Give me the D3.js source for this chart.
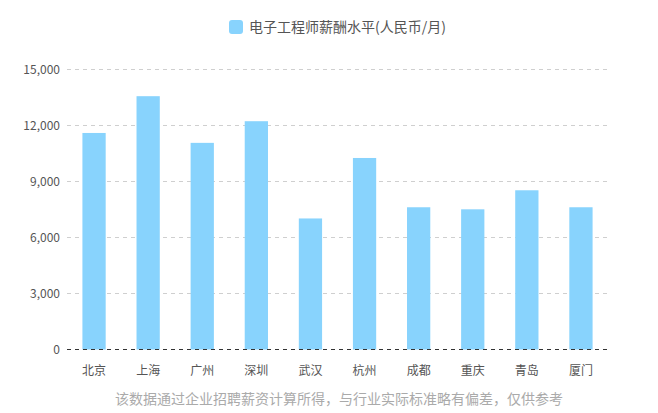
<!DOCTYPE html>
<html>
<head>
<meta charset="utf-8">
<script src="https://cdn.jsdelivr.net/npm/d3@7"></script>
<style>
  html, body { margin: 0; padding: 0; background: #fff; }
  svg { display: block; font-family: "Noto Sans CJK SC", "Noto Sans", sans-serif; }
</style>
</head>
<body>
<svg id="chart" width="658" height="413"></svg>
<script>
const cities = ["北京", "上海", "广州", "深圳", "武汉", "杭州", "成都", "重庆", "青岛", "厦门"];
const salaries = [11600, 13570, 11070, 12230, 7020, 10260, 7620, 7510, 8530, 7620];
const yTicks = [0, 3000, 6000, 9000, 12000, 15000];
const seriesName = "电子工程师薪酬水平(人民币/月)";
const footNote = "该数据通过企业招聘薪资计算所得，与行业实际标准略有偏差，仅供参考";

const width = 658,
  height = 413,
  margin = { top: 69.5, right: 50, bottom: 63.5, left: 67 },
  barColor = "#88d3fd";

const svg = d3.select("#chart");

const x = d3.scaleBand()
  .domain(cities)
  .range([margin.left, width - margin.right])
  .paddingInner(0.57)
  .paddingOuter(0.285);

const y = d3.scaleLinear()
  .domain([0, 15000])
  .range([height - margin.bottom, margin.top]);

// grid lines
svg.append("g")
  .selectAll("line")
  .data(yTicks.filter(d => d > 0))
  .enter()
  .append("line")
  .attr("x1", margin.left)
  .attr("x2", width - margin.right)
  .attr("y1", d => y(d))
  .attr("y2", d => y(d))
  .attr("stroke", "#cfcfcf")
  .attr("stroke-dasharray", "4,4");

// y axis labels
svg.append("g")
  .selectAll("text")
  .data(yTicks)
  .enter()
  .append("text")
  .attr("x", margin.left - 7)
  .attr("y", d => y(d))
  .attr("dy", "0.35em")
  .attr("text-anchor", "end")
  .attr("fill", "#555")
  .style("font-size", "12px")
  .text(d3.format(","));

// bars
svg.append("g")
  .selectAll("rect")
  .data(salaries)
  .enter()
  .append("rect")
  .attr("x", (d, i) => x(cities[i]))
  .attr("width", x.bandwidth())
  .attr("y", d => y(d))
  .attr("height", d => y(0) - y(d))
  .attr("fill", barColor);

// zero line
svg.append("line")
  .attr("x1", margin.left)
  .attr("x2", width - margin.right)
  .attr("y1", y(0))
  .attr("y2", y(0))
  .attr("stroke", "#333")
  .attr("stroke-dasharray", "4,4");

// x axis labels
svg.append("g")
  .selectAll("text")
  .data(cities)
  .enter()
  .append("text")
  .attr("x", d => x(d) + x.bandwidth() / 2)
  .attr("y", y(0) + 25)
  .attr("text-anchor", "middle")
  .attr("fill", "#555")
  .style("font-size", "12px")
  .text(d => d);

// legend
const legend = svg.append("g").attr("transform", "translate(229,20)");
legend.append("rect")
  .attr("width", 14)
  .attr("height", 14)
  .attr("rx", 3)
  .attr("fill", barColor);
legend.append("text")
  .attr("x", 20)
  .attr("y", 7)
  .attr("dy", "0.35em")
  .attr("fill", "#555")
  .style("font-size", "14px")
  .text(seriesName);

// foot note
svg.append("text")
  .attr("x", 339)
  .attr("y", 399)
  .attr("dy", "0.35em")
  .attr("text-anchor", "middle")
  .attr("fill", "#aaa")
  .style("font-size", "14px")
  .text(footNote);
</script>
</body>
</html>
